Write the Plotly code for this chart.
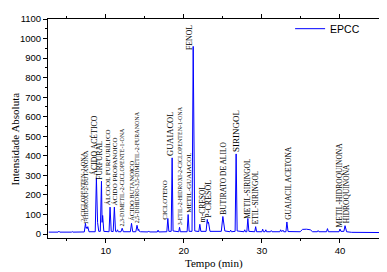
import plotly.graph_objects as go

# ---------------- data ----------------
time_min = [
    2.7, 3.9, 4.0, 4.1,
    5.6, 5.7, 5.8, 5.9, 6.0, 6.1,
    7.25, 7.4, 7.48, 7.55, 7.62, 7.7, 7.85,
    8.65, 8.8, 8.95, 9.1, 9.3, 9.45, 9.53, 9.6, 9.75,
    10.42, 10.55, 10.7, 10.95, 11.1, 11.25,
    11.4, 11.5, 11.6, 11.95, 12.1, 12.25,
    13.15, 13.3, 13.45, 13.85, 14.0, 14.15, 14.22, 14.3, 14.45,
    15.4, 15.5, 15.6, 16.6, 16.7, 16.8,
    17.82, 17.95, 18.08, 18.38, 18.5, 18.62,
    19.35, 19.45, 19.55,
    20.42, 20.55, 20.68, 21.05, 21.2, 21.4,
    21.92, 22.05, 22.18, 22.85, 23.0, 23.08, 23.15, 23.35,
    24.8, 25.0, 25.25,
    25.9, 26.0, 26.1, 26.57, 26.7, 26.83,
    27.7, 27.8, 27.9, 28.07, 28.2, 28.33,
    29.08, 29.2, 29.32,
    30.0, 30.1, 30.2, 30.4, 30.5, 30.6, 31.1, 31.2, 31.3,
    32.3, 32.4, 32.5, 32.6, 32.7, 32.8,
    33.08, 33.2, 33.35,
    34.9, 35.2, 35.7, 36.2, 36.5,
    37.1, 37.2, 37.3, 38.28, 38.4, 38.52,
    39.88, 40.0, 40.12, 40.5, 40.65, 40.85,
    41.5, 43.0, 45.0,
]

intensity = [
    10, 10, 15, 10,
    10, 13, 10, 10, 12, 10,
    11, 55, 30, 36, 28, 38, 12,
    12, 288, 60, 14, 14, 270, 60, 95, 14,
    12, 138, 14, 13, 138, 14,
    12, 22, 12, 12, 30, 12,
    12, 55, 12, 12, 45, 18, 25, 14, 12,
    11, 16, 11, 11, 20, 11,
    12, 80, 14, 14, 390, 16,
    12, 35, 12,
    12, 100, 14, 14, 960, 16,
    13, 50, 14, 14, 75, 55, 62, 14,
    14, 90, 16,
    12, 20, 12, 14, 410, 16,
    12, 22, 12, 12, 80, 14,
    12, 38, 12,
    12, 25, 12, 12, 22, 12, 12, 18, 12,
    12, 22, 14, 14, 20, 12,
    12, 62, 13,
    12, 24, 25, 22, 12,
    12, 18, 12, 12, 28, 12,
    12, 26, 14, 14, 43, 12,
    9, 8, 8,
]

compound_names = [
    "2-CICLOPENTEN-1-ONA", "1-HIDROXI-2-BUTANONA", "ÁCIDO ACÉTICO", "FURFURAL",
    "ÁLCOOL FURFURÍLICO", "ÁCIDO PROPANOICO", "2,3-DIMETIL-2-CICLOPENTE-1-ONA",
    "ÁCIDO BUTANOICO", "2,5-DIHIDRO-3,5-DIMETIL-2-FURANONA", "CICLOTENO", "GUAIACOL",
    "3-ETIL-2-HIDROXI-2-CICLOPENTEN-1-ONA", "METIL-GUAIACOL", "FENOL", "m-CRESOL",
    "P-CRESOL", "BUTIRATO DE ALILO", "SIRINGOL", "METIL-SIRINGOL", "ETIL-SIRINGOL",
    "GUAIACIL ACETONA", "METIL-HIDROQUINONA", "HIDROQUINONA",
]
compound_times = [
    7.4, 7.7, 8.8, 9.45, 10.55, 11.1, 12.1, 13.3, 14.0, 17.95, 18.5,
    19.45, 20.55, 21.2, 22.05, 23.0, 25.0, 26.7, 28.2, 29.2, 33.2, 40.0, 40.65,
]

series_name = "EPCC"
x_ticks = [10, 20, 30, 40]
x_title = "Tempo (min)"
y_title = "Intensidade Absoluta"

# ---------------- styling / layout ----------------
label_size = {
    "2-CICLOPENTEN-1-ONA": 6.3, "1-HIDROXI-2-BUTANONA": 6.3, "ÁLCOOL FURFURÍLICO": 7,
    "ÁCIDO PROPANOICO": 7, "2,3-DIMETIL-2-CICLOPENTE-1-ONA": 6, "ÁCIDO BUTANOICO": 6.5,
    "2,5-DIHIDRO-3,5-DIMETIL-2-FURANONA": 6, "CICLOTENO": 7, "GUAIACOL": 8.5,
    "3-ETIL-2-HIDROXI-2-CICLOPENTEN-1-ONA": 6, "METIL-GUAIACOL": 7, "SIRINGOL": 9,
    "P-CRESOL": 8, "FENOL": 7.8, "ÁCIDO ACÉTICO": 7.8,
}
label_dx = {
    "2-CICLOPENTEN-1-ONA": -3, "1-HIDROXI-2-BUTANONA": -2, "ÁCIDO ACÉTICO": -2.5,
    "FURFURAL": -2, "ÁLCOOL FURFURÍLICO": -2, "ÁCIDO PROPANOICO": 1, "CICLOTENO": -2.5,
    "GUAIACOL": -2, "FENOL": -3, "m-CRESOL": 2, "P-CRESOL": 1, "BUTIRATO DE ALILO": 1,
    "GUAIACIL ACETONA": 2, "HIDROQUINONA": 1,
}
label_dy = {"FENOL": -5, "CICLOTENO": -2, "METIL-SIRINGOL": -1}

lookup = dict(zip(time_min, intensity))

fig = go.Figure()
fig.add_trace(go.Scatter(
    x=time_min, y=intensity, mode="lines", name=series_name,
    line=dict(color="#0000FF", width=1),
))

for name, t in zip(compound_names, compound_times):
    fig.add_annotation(
        x=t, y=lookup[t], text=name, showarrow=False, textangle=-90,
        xanchor="center", yanchor="bottom",
        xshift=label_dx.get(name, 0), yshift=label_dy.get(name, 1),
        font=dict(family="Liberation Serif", size=label_size.get(name, 7.5), color="black"),
        borderpad=0,
    )

# axis titles as paper-anchored text
fig.add_annotation(
    x=0.5, y=0, xref="paper", yref="paper", text=x_title, showarrow=False,
    xanchor="center", yanchor="middle", yshift=-25,
    font=dict(family="Liberation Serif", size=11, color="black"),
)
fig.add_annotation(
    x=0, y=0.45, xref="paper", yref="paper", text=y_title, showarrow=False,
    textangle=-90, xanchor="center", yanchor="middle", xshift=-33,
    font=dict(family="Liberation Serif", size=11, color="black"),
)

axis_common = dict(
    showline=True, linecolor="black", linewidth=1, mirror="allticks",
    ticks="outside", ticklen=4, tickwidth=1, tickcolor="black",
    showgrid=False, zeroline=False, automargin=False,
    tickfont=dict(family="Liberation Sans", size=9.5, color="black"),
)

fig.update_xaxes(
    range=[2.6, 45], tickvals=x_ticks,
    minor=dict(dtick=5, tick0=0, ticks="outside", ticklen=2, tickcolor="black"),
    **axis_common,
)
fig.update_yaxes(
    range=[-20, 1100], dtick=100, tick0=0,
    minor=dict(dtick=50, tick0=0, ticks="outside", ticklen=2, tickcolor="black"),
    **axis_common,
)

fig.update_layout(
    width=387, height=272,
    margin=dict(l=40, r=16, t=6, b=42),
    paper_bgcolor="white", plot_bgcolor="white",
    showlegend=True,
    legend=dict(x=0.958, y=1.022, xanchor="right", yanchor="top",
                bgcolor="rgba(0,0,0,0)", borderwidth=0,
                font=dict(family="Liberation Sans", size=10.5, color="black")),
)

fig.write_html("out.html")
